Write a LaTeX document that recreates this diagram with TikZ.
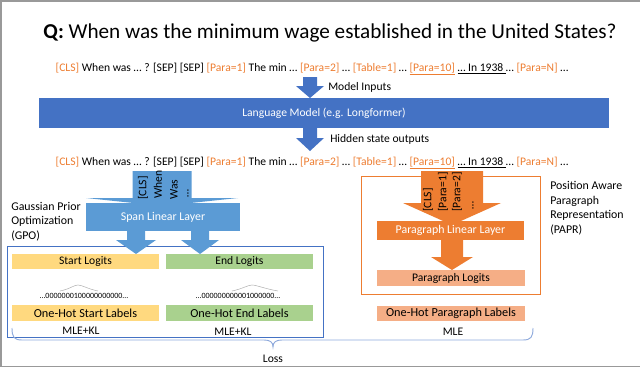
\documentclass[tikz,border=0pt]{standalone}
\usepackage{fontspec}
\setmainfont{Carlito}
\definecolor{lmblue}{HTML}{4472C4}
\definecolor{spblue}{HTML}{5B9BD5}
\definecolor{orng}{HTML}{ED7D31}
\definecolor{ylw}{HTML}{FFD97F}
\definecolor{grn}{HTML}{A9D18E}
\definecolor{salm}{HTML}{F5AE86}
\definecolor{brace}{HTML}{8FAADC}
\newcommand{\tk}[1]{\textcolor{orng}{#1}}
\newcommand{\blockarrow}[7]{%
  \fill[#1] ({#2-#3},#5) -- ({#2+#3},#5) -- ({#2+#3},#6) -- ({#2+#4},#6) -- (#2,#7) -- ({#2-#4},#6) -- ({#2-#3},#6) -- cycle;}
\tikzset{
  txt/.style={inner sep=0pt, font=\fontsize{8.7}{10.5}\selectfont},
  side/.style={txt, align=left, anchor=north west, font=\fontsize{8.9}{10.9}\selectfont},
  wtxt/.style={txt, text=white},
  rot/.style={txt, rotate=90, anchor=west},
}
\begin{document}
\begin{tikzpicture}[x=0.75pt,y=-0.75pt]
\useasboundingbox (0,0) rectangle (640,368);
% frame
\draw[gray!80, line width=1.2pt] (640,1) -- (1,1) -- (1,366.5) -- (640,366.5);
% title
\node[inner sep=0pt, font=\fontsize{15.9}{18}\selectfont] (title) at (330,33) {\textbf{Q:} When was the minimum wage established in the United States?};
% token lines
\node[txt] (tok1) at (312,69) {\tk{[CLS]} When was … ? [SEP] [SEP] \tk{[Para=1]} The min … \tk{[Para=2]} … \tk{[Table=1]} … \tk{\underline{[Para=10]}} \underline{… In 1938 }… \tk{[Para=N]} …};
% model inputs arrow
\blockarrow{lmblue}{310}{7}{14}{77}{86}{98}
\node[txt, anchor=west] (mi) at (328,87) {Model Inputs};
% LM box
\fill[lmblue] (39,98) rectangle (609,128);
\node[wtxt] (lm) at (324,113) {Language Model (e.g. Longformer)};
% hidden arrow
\blockarrow{lmblue}{310}{7}{14}{128}{138}{151}
\node[txt, anchor=west] (hs) at (330,139) {Hidden state outputs};
\node[txt] (tok2) at (312,163) {\tk{[CLS]} When was … ? [SEP] [SEP] \tk{[Para=1]} The min … \tk{[Para=2]} … \tk{[Table=1]} … \tk{\underline{[Para=10]}} \underline{… In 1938 }… \tk{[Para=N]} …};
% outline boxes
\draw[lmblue, line width=0.7pt] (7,246) rectangle (323,337);
\draw[orng, line width=0.7pt] (361,176) rectangle (540,294);
% side texts
\node[side] (gpo) at (11,202) {Gaussian Prior\\Optimization\\(GPO)};
\node[side] (papr) at (550,181) {Position Aware\\Paragraph\\Representation\\(PAPR)};
% span arrow
\blockarrow{spblue}{162}{29.5}{76}{171}{198}{206}
\node[rot] at (143,200) {[CLS]};
\node[rot] at (158,199) {When};
\node[rot] at (174,200) {Was};
\node[rot] at (188,198) {…};
\fill[spblue] (86,203) rectangle (240,231);
\node[wtxt, font=\fontsize{8.9}{10}\selectfont] (sll) at (163,217) {Span Linear Layer};
\blockarrow{spblue}{136}{9}{20}{231}{240}{254}
\blockarrow{spblue}{200}{9}{19}{231}{240}{254}
% logits
\fill[ylw] (12,254) rectangle (159,269);
\node[txt] (sl) at (85.5,261.5) {Start Logits};
\fill[grn] (166,254) rectangle (313,269);
\node[txt] (el) at (239.5,261.5) {End Logits};
% gaussian hats
\draw[gray!60, line width=0.4pt] (60,291) .. controls (70,289) and (74,285) .. (78,285) .. controls (82,285) and (88,289) .. (98,291);
\draw[gray!60, line width=0.4pt] (232,291) .. controls (242,289) and (248,285) .. (252,285) .. controls (256,285) and (266,289) .. (278,291);
\node[txt, font=\fontsize{6}{7}\selectfont] (d1) at (84,296) {…0000000100000000000…};
\node[txt, font=\fontsize{6}{7}\selectfont] (d2) at (238,296) {…000000000001000000…};
\fill[ylw] (12,305) rectangle (159,321);
\node[txt, font=\fontsize{9.2}{10}\selectfont] (osl) at (85.5,313) {One-Hot Start Labels};
\fill[grn] (166,305) rectangle (313,321);
\node[txt, font=\fontsize{9.2}{10}\selectfont] (oel) at (239.5,313) {One-Hot End Labels};
\node[txt] (m1) at (81,331) {MLE+KL};
\node[txt] (m2) at (233,332) {MLE+KL};
% paragraph side
\blockarrow{orng}{452}{31}{49}{171}{203}{225}
\node[rot] at (428,212) {[CLS]};
\node[rot] at (443,212) {[Para=1]};
\node[rot] at (457,212) {[Para=2]};
\node[rot] at (473,210) {…};
\fill[orng] (377,221) rectangle (524,240);
\node[wtxt, font=\fontsize{8.9}{10}\selectfont] (pll) at (450.5,230.5) {Paragraph Linear Layer};
\blockarrow{orng}{452}{11}{21}{240}{257}{270}
\fill[salm] (377,270) rectangle (525,286);
\node[txt] (pl) at (451,278) {Paragraph Logits};
\fill[salm] (377,306) rectangle (525,321);
\node[txt, font=\fontsize{9.2}{10}\selectfont] (opl) at (451,313.5) {One-Hot Paragraph Labels};
\node[txt] (m3) at (453,332) {MLE};
% loss brace
\draw[brace, line width=0.7pt] (12,328) .. controls (12,337) and (14,340) .. (22,340) -- (264,340) .. controls (270,340) and (273,342) .. (273,347) .. controls (273,342) and (276,340) .. (282,340) -- (523,340) .. controls (531,340) and (533,337) .. (533,328);
\node[txt] (loss) at (273,359) {Loss};
\end{tikzpicture}
\end{document}
